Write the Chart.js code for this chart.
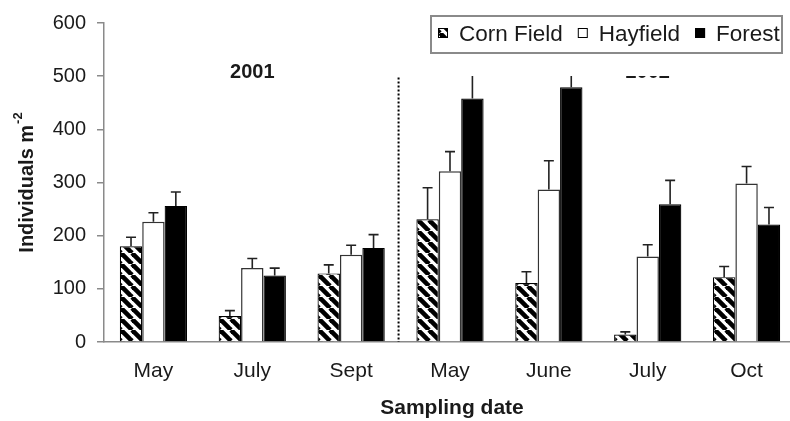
<!DOCTYPE html>
<html><head><meta charset="utf-8">
<script src="https://cdn.jsdelivr.net/npm/chart.js@4/dist/chart.umd.min.js"></script>
<style>
html,body{margin:0;padding:0;background:#fff;overflow:hidden;width:790px;height:421px}
#wrap{width:796px;height:421px;position:relative}
</style></head>
<body><div id="wrap"><canvas id="c" width="796" height="421"></canvas></div>
<script>
// ---- data ----
const categories = ['May', 'July', 'Sept', 'May', 'June', 'July', 'Oct'];
const seriesNames = ['Corn Field', 'Hayfield', 'Forest'];
const cornField = [180, 49, 129, 231, 111, 14, 122];
const cornErr   = [17, 10, 16, 59, 21, 5, 20];
const hayfield  = [226, 139, 164, 321, 287, 161, 298];
const hayErr    = [17, 18, 18, 37, 54, 22, 32];
const forest    = [256, 125, 177, 458, 479, 259, 221];
const forestErr = [26, 14, 25, 55, 35, 45, 32];
const yTicks = [0, 100, 200, 300, 400, 500, 600];
const yearLabels = ['2001', '2002'];
const yearLabelCategory = [1, 5];
const yearLabelValue = 506;
const dividerAfterCategory = 2;
const dividerTopValue = 497.5;
const yTitle = 'Individuals m';
const yTitleSup = '-2';
const xTitle = 'Sampling date';

// ---- hatch pattern ----
function makeHatch() {
  const P = 11;
  const c = document.createElement('canvas');
  c.width = P; c.height = P;
  const g = c.getContext('2d');
  g.fillStyle = '#fff'; g.fillRect(0, 0, P, P);
  g.strokeStyle = '#000'; g.lineWidth = 4.6;
  for (const x0 of [-P, 0, P]) {
    g.beginPath(); g.moveTo(x0, 0); g.lineTo(x0 + P, P); g.stroke();
  }
  return document.getElementById('c').getContext('2d').createPattern(c, 'repeat');
}
const hatch = makeHatch();

const FONT = '"Liberation Sans", Arial, sans-serif';
const TXT = '#1a1a1a';

const errorBars = {
  id: 'errorBars',
  afterDatasetsDraw(chart) {
    const ctx = chart.ctx, y = chart.scales.y;
    chart.data.datasets.forEach((ds, di) => {
      const meta = chart.getDatasetMeta(di);
      meta.data.forEach((bar, i) => {
        const top = y.getPixelForValue(ds.data[i] + ds.errors[i]);
        const base = y.getPixelForValue(ds.data[i]);
        ctx.save();
        ctx.strokeStyle = '#222'; ctx.lineWidth = 1.6;
        ctx.beginPath();
        ctx.moveTo(bar.x, base); ctx.lineTo(bar.x, top);
        ctx.moveTo(bar.x - 5, top); ctx.lineTo(bar.x + 5, top);
        ctx.stroke();
        ctx.restore();
      });
    });
  }
};

const decorations = {
  id: 'decorations',
  afterDraw(chart) {
    const ctx = chart.ctx, x = chart.scales.x, y = chart.scales.y, a = chart.chartArea;
    ctx.save();
    // year labels
    ctx.fillStyle = TXT; ctx.font = 'bold 20px ' + FONT;
    ctx.textAlign = 'center'; ctx.textBaseline = 'middle';
    yearLabels.forEach((t, k) => {
      ctx.fillText(t, x.getPixelForValue(yearLabelCategory[k]), y.getPixelForValue(yearLabelValue));
    });
    // divider
    const dx = (x.getPixelForValue(dividerAfterCategory) + x.getPixelForValue(dividerAfterCategory + 1)) / 2 - 2;
    const dTop = y.getPixelForValue(dividerTopValue);
    // white band (as in the source figure) hiding the top of the 2002 label and bars
    ctx.fillStyle = '#fff';
    ctx.fillRect(dx - 8, 54, chart.width - dx + 8, dTop - 55.5);
    ctx.fillRect(dx - 8, dTop - 2, 16, 2);
    ctx.strokeStyle = '#000'; ctx.lineWidth = 2; ctx.setLineDash([2, 2]);
    ctx.beginPath(); ctx.moveTo(dx, dTop); ctx.lineTo(dx, a.bottom); ctx.stroke();
    ctx.setLineDash([]);

    // legend
    ctx.strokeStyle = '#8a8a8a'; ctx.lineWidth = 2;
    ctx.fillStyle = '#fff';
    ctx.fillRect(431, 16, 351, 37);
    ctx.strokeRect(431, 16, 351, 37);
    ctx.font = '22.5px ' + FONT; ctx.textAlign = 'left'; ctx.textBaseline = 'middle';
    let lx = 438;
    chart.data.datasets.forEach((ds) => {
      ctx.fillStyle = ds.backgroundColor;
      ctx.fillRect(lx, 28, 10, 10);
      ctx.strokeStyle = '#000'; ctx.lineWidth = 1;
      ctx.strokeRect(lx + 0.5, 28.5, 9, 9);
      ctx.fillStyle = TXT;
      ctx.fillText(ds.label, lx + 21, 35);
      lx += 21 + ctx.measureText(ds.label).width + 15;
    });

    // axis titles
    ctx.fillStyle = TXT;
    ctx.font = 'bold 21px ' + FONT; ctx.textAlign = 'center'; ctx.textBaseline = 'middle';
    ctx.fillText(xTitle, (a.left + a.right) / 2 + 2, 408);

    ctx.translate(27, (a.top + a.bottom) / 2);
    ctx.rotate(-Math.PI / 2);
    ctx.font = 'bold 20px ' + FONT;
    const w1 = ctx.measureText(yTitle).width;
    ctx.font = 'bold 13px ' + FONT;
    const w2 = ctx.measureText(yTitleSup).width;
    const sx = -(w1 + w2 + 1) / 2;
    ctx.textAlign = 'left';
    ctx.font = 'bold 20px ' + FONT;
    ctx.fillText(yTitle, sx, 0);
    ctx.font = 'bold 13px ' + FONT;
    ctx.fillText(yTitleSup, sx + w1 + 1, -9);
    ctx.restore();
  }
};

new Chart(document.getElementById('c'), {
  type: 'bar',
  data: {
    labels: categories,
    datasets: [
      { label: seriesNames[0], data: cornField, errors: cornErr, backgroundColor: hatch, borderColor: '#000', borderWidth: 1.2 },
      { label: seriesNames[1], data: hayfield, errors: hayErr, backgroundColor: '#fff', borderColor: '#333', borderWidth: 1.5 },
      { label: seriesNames[2], data: forest, errors: forestErr, backgroundColor: '#000', borderColor: '#000', borderWidth: 1.2 }
    ]
  },
  options: {
    responsive: false,
    animation: false,
    layout: { padding: { top: 19, right: 0, left: 0, bottom: 0 } },
    datasets: { bar: { barPercentage: 1.0, categoryPercentage: 0.68, borderSkipped: 'bottom' } },
    plugins: { legend: { display: false }, tooltip: { enabled: false } },
    scales: {
      x: {
        grid: { display: true, drawOnChartArea: false, drawTicks: false },
        border: { color: '#8a8a8a', width: 1.5 },
        ticks: { color: TXT, font: { family: FONT, size: 21 }, padding: 17, maxRotation: 0 },
        afterFit(s) { s.height = 79; }
      },
      y: {
        min: 0, max: 600,
        afterBuildTicks(s) { s.ticks = yTicks.map(v => ({ value: v })); },
        grid: { drawOnChartArea: false, drawTicks: true, tickLength: 7, color: '#8a8a8a', lineWidth: 1.5 },
        border: { color: '#8a8a8a', width: 1.5 },
        ticks: { color: TXT, font: { family: FONT, size: 20 }, padding: 11 },
        afterFit(s) { s.width = 104; }
      }
    }
  },
  plugins: [errorBars, decorations]
});
</script>
</body></html>
